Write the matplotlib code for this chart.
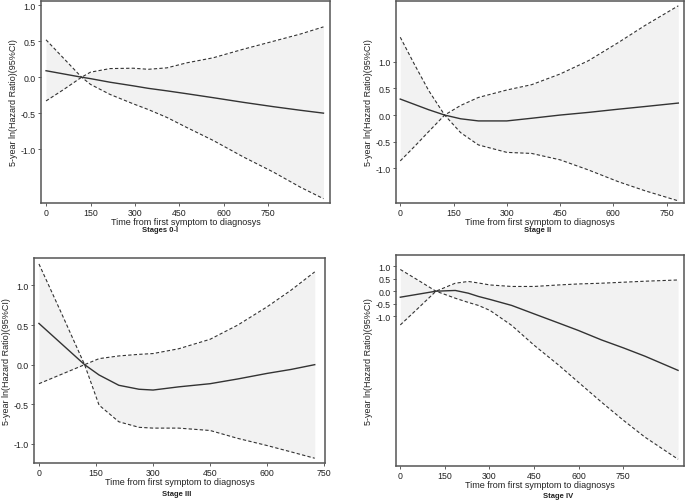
import matplotlib
matplotlib.use("Agg")
import matplotlib.pyplot as plt

plt.rcParams['font.family'] = ['Liberation Sans', 'DejaVu Sans']
plt.rcParams['axes.unicode_minus'] = False

# ---- data ----
x1 = [0, 60, 120, 150, 216, 294, 345, 408, 475, 564, 666, 767, 858, 936]
est1 = [0.09, 0.045, 0, -0.02, -0.07, -0.12, -0.155, -0.19, -0.23, -0.285, -0.35, -0.41, -0.46, -0.50]
up1 = [-0.33, -0.17, 0, 0.07, 0.12, 0.125, 0.11, 0.13, 0.20, 0.27, 0.39, 0.50, 0.60, 0.70]
lo1 = [0.52, 0.26, 0, -0.10, -0.24, -0.37, -0.45, -0.56, -0.70, -0.88, -1.11, -1.32, -1.53, -1.69]

x2 = [0, 40, 80, 125, 170, 220, 300, 370, 450, 530, 614, 689, 783]
est2 = [0.30, 0.20, 0.10, 0, -0.07, -0.11, -0.11, -0.06, 0.0, 0.05, 0.11, 0.16, 0.225]
up2 = [-0.86, -0.59, -0.31, 0, 0.18, 0.33, 0.47, 0.57, 0.77, 1.02, 1.36, 1.68, 2.05]
lo2 = [1.46, 0.95, 0.46, 0, -0.33, -0.56, -0.70, -0.72, -0.84, -1.03, -1.25, -1.42, -1.61]

x3 = [0, 60, 120, 158, 210, 263, 300, 367, 450, 523, 600, 663, 725]
est3 = [0.52, 0.26, 0, -0.13, -0.26, -0.31, -0.32, -0.28, -0.24, -0.18, -0.11, -0.06, 0.0]
up3 = [-0.24, -0.12, 0, 0.076, 0.11, 0.13, 0.14, 0.20, 0.32, 0.50, 0.73, 0.94, 1.17]
lo3 = [1.27, 0.64, 0, -0.51, -0.72, -0.79, -0.80, -0.80, -0.83, -0.93, -1.02, -1.10, -1.18]

x4 = [0, 60, 120, 185, 229, 263, 302, 375, 451, 532, 599, 677, 751, 823, 935]
est4 = [-0.24, -0.12, 0, 0.03, -0.08, -0.21, -0.33, -0.57, -0.91, -1.27, -1.57, -1.95, -2.27, -2.60, -3.17]
up4 = [-1.35, -0.68, 0, 0.32, 0.39, 0.33, 0.25, 0.19, 0.19, 0.25, 0.29, 0.32, 0.36, 0.40, 0.45]
lo4 = [0.87, 0.44, 0, -0.28, -0.45, -0.57, -0.77, -1.37, -2.17, -2.95, -3.64, -4.44, -5.17, -5.84, -6.73]

titles = ['Stages 0-I', 'Stage II', 'Stage III', 'Stage IV']
xticks = [0, 150, 300, 450, 600, 750]
yticks = [-1.0, -0.5, 0.0, 0.5, 1.0]
xlabel = 'Time from first symptom to diagnosys'
ylabel = '5-year ln(Hazard Ratio)(95%CI)'

W, H = 685, 502
fig = plt.figure(figsize=(W / 100, H / 100), dpi=100)
fig.patch.set_facecolor('white')


def box(l, t, r, b):
    return [l / W, 1 - b / H, (r - l) / W, (b - t) / H]


panels = [
    (box(41, 2, 330, 204), x1, est1, up1, lo1, (-17, 958), (-1.75, 1.06), (160, 231)),
    (box(396, 2, 684, 204), x2, est2, up2, lo2, (-12, 799), (-1.65, 2.14), (538, 231)),
    (box(34, 259, 325, 464), x3, est3, up3, lo3, (-13, 752), (-1.24, 1.345), (177, 495)),
    (box(396, 256, 684, 467), x4, est4, up4, lo4, (-14.5, 955), (-7.0, 1.45), (558, 497)),
]

for i, (rect, x, est, up, lo, xl, yl, tpos) in enumerate(panels):
    ax = fig.add_axes(rect)
    ax.fill_between(x, lo, up, color='#f2f2f2', lw=0)
    ax.plot(x, up, color='#333333', lw=0.8, ls=(0, (3, 2)))
    ax.plot(x, lo, color='#333333', lw=0.8, ls=(0, (3, 2)))
    ax.plot(x, est, color='#333333', lw=1.0)
    ax.set_xlim(xl)
    ax.set_ylim(yl)
    ax.set_xticks(xticks)
    ax.set_yticks(yticks)
    ax.set_yticklabels(['%.1f' % v for v in yticks])
    ax.tick_params(labelsize=6.3, length=2.5, width=0.6, color='#444444',
                   labelcolor='#222222', pad=1.5)
    ax.tick_params(axis='x', pad=1)
    for s in ax.spines.values():
        s.set_color('#555555')
        s.set_linewidth(1.1)
    ax.set_xlabel(xlabel, fontsize=6.5, color='#222222', labelpad=0)
    ax.set_ylabel(ylabel, fontsize=6.5, color='#222222', labelpad=2)
    fig.text(tpos[0] / W, 1 - tpos[1] / H, titles[i], fontsize=5.5,
             fontweight='bold', ha='center', va='center', color='#222222')

fig.savefig('out.png', dpi=100)
